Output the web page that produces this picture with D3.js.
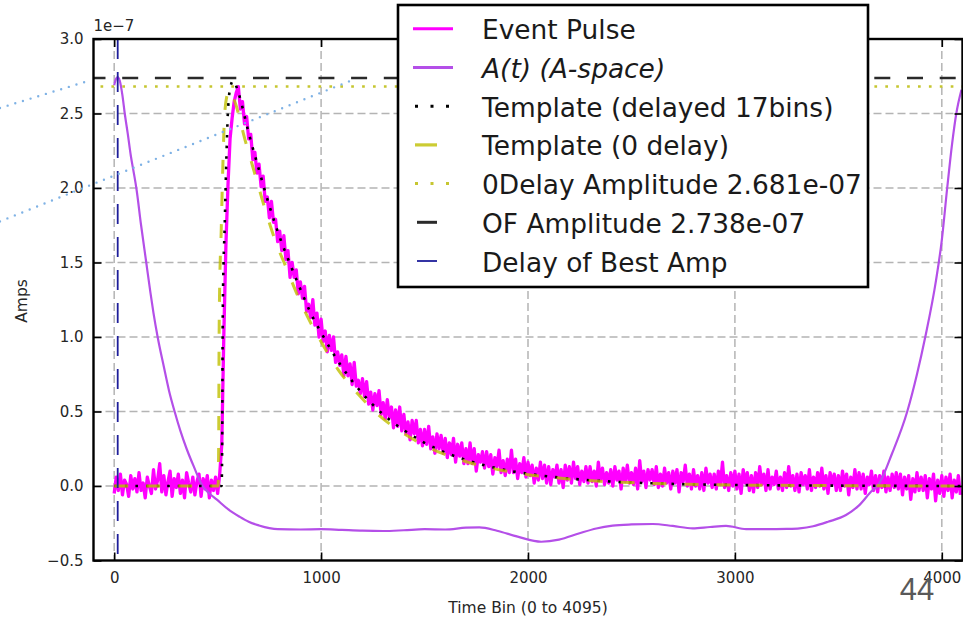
<!DOCTYPE html>
<html><head><meta charset="utf-8">
<script src="https://cdn.jsdelivr.net/npm/d3@7/dist/d3.min.js"></script>
<style>body{margin:0;background:#fff;} svg{display:block;}</style>
</head><body>
<svg id="chart" width="963" height="618"></svg>
<script>
// ---------------- DATA (amplitudes in units of 1e-7 A) ----------------
const pulseStep = 10; // bins between Event Pulse samples
const pulseValues = [
 -0.05,0.06,-0.03,0.08,-0.06,0.04,0.01,-0.07,0.07,-0.02,
 0.05,-0.04,0.09,-0.03,0.02,-0.08,0.06,0.00,-0.05,0.11,
 -0.02,0.04,0.15,-0.04,0.07,-0.06,0.03,0.10,-0.07,0.05,
 -0.01,0.08,-0.05,0.04,-0.08,0.09,0.02,-0.04,0.06,-0.06,
 0.03,0.08,-0.07,0.05,-0.02,0.07,-0.08,0.04,-0.03,0.06,
 -0.05,0.08,
 0.28,1.02,1.62,2.02,2.33,2.47,2.58,2.64,
 2.68,2.53,2.58,2.43,2.48,2.33,2.36,2.19,2.24,2.10,
 2.16,2.01,2.08,1.91,1.94,1.80,1.91,1.77,1.79,1.64,
 1.71,1.58,1.68,1.52,1.58,1.40,1.50,1.40,1.45,1.29,
 1.37,1.26,1.34,1.17,1.22,1.13,1.25,1.08,1.16,1.00,
 1.12,0.97,1.04,0.90,1.01,0.91,1.00,0.83,0.90,0.81,
 0.88,0.74,0.87,0.74,0.82,0.68,0.83,0.67,0.71,0.62,
 0.72,0.60,0.70,0.55,0.63,0.51,0.62,0.54,0.64,0.48,
 0.56,0.45,0.58,0.46,0.53,0.39,0.51,0.40,0.53,0.37,
 0.48,0.35,0.43,0.31,0.44,0.35,0.44,0.29,0.38,0.27,
 0.38,0.28,0.40,0.25,0.33,0.22,0.35,0.25,0.34,0.22,
 0.32,0.19,0.29,0.21,0.32,0.16,0.28,0.20,0.29,0.15,
 0.25,0.15,0.29,0.15,0.25,0.10,0.21,0.16,0.23,0.12,
 0.23,0.13,0.21,0.08,0.19,0.13,0.24,0.09,0.17,0.07,
 0.18,0.09,0.24,0.09,0.18,0.05,0.15,0.09,0.19,0.06,
 0.16,0.07,0.14,0.02,0.12,0.04,0.16,0.05,0.14,0.02,
 0.13,0.01,0.11,0.06,0.14,0.02,0.11,-0.01,0.14,0.04,
 0.13,0.02,0.16,0.05,0.13,0.01,0.10,0.03,0.13,0.02,
 0.13,0.03,0.10,0.00,0.16,0.04,0.12,0.01,0.09,0.02,
 0.11,0.00,0.13,0.04,0.10,-0.02,0.12,0.03,0.14,0.02,
 0.09,0.01,0.12,-0.02,0.17,0.03,0.10,-0.01,0.11,0.04,
 0.11,0.01,0.13,-0.01,0.08,0.00,0.12,0.02,0.09,-0.02,
 0.10,0.02,0.11,-0.04,0.09,0.03,0.14,0.00,0.08,-0.02,
 0.11,0.00,0.07,-0.02,0.09,-0.03,0.12,0.02,0.08,-0.01,
 0.08,-0.02,0.10,0.01,0.16,-0.01,0.07,-0.03,0.09,0.00,
 0.10,-0.02,0.08,-0.05,0.11,0.02,0.09,-0.03,0.07,-0.04,
 0.09,-0.01,0.13,0.01,0.08,-0.03,0.11,-0.02,0.06,0.01,
 0.10,-0.02,0.06,-0.03,0.09,-0.01,0.13,0.00,0.07,-0.03,
 0.08,-0.04,0.09,0.01,0.07,-0.02,0.11,-0.03,0.06,-0.01,
 0.09,0.00,0.12,-0.02,0.07,-0.05,0.09,0.01,0.08,-0.03,
 0.07,-0.03,0.10,0.00,0.08,-0.06,0.06,-0.01,0.11,-0.02,
 0.09,-0.02,0.08,-0.05,0.06,0.01,0.10,-0.03,0.07,-0.04,
 0.07,-0.01,0.10,-0.04,0.06,-0.03,0.08,-0.01,0.09,-0.02,
 0.08,-0.06,0.06,-0.02,0.07,-0.09,0.05,-0.04,0.09,-0.03,
 0.06,-0.03,0.07,-0.08,0.05,-0.02,0.08,-0.10,0.04,-0.05,
 0.07,-0.07,0.06,-0.03,0.08,-0.08,0.04,-0.04,0.07,-0.06
];

const aBins = [0,8,17,27,40,51,65,80,95,107,130,155,175,190,210,240,265,292,320,350,385,427,460,495,550,606,650,700,750,790,900,1000,1100,1200,1300,1400,1500,1600,1700,1765,1850,1950,2064,2150,2249,2330,2409,2500,2603,2700,2796,2880,2957,3054,3150,3250,3313,3378,3450,3537,3600,3666,3689,3760,3833,3880,3920,3972,4000,4026,4050,4070,4095];
const aValues = [2.69,2.73,2.745,2.72,2.62,2.50,2.37,2.22,2.10,2.00,1.75,1.50,1.30,1.16,1.00,0.80,0.64,0.50,0.37,0.25,0.13,0.00,-0.05,-0.09,-0.155,-0.206,-0.24,-0.265,-0.283,-0.29,-0.292,-0.29,-0.295,-0.30,-0.302,-0.297,-0.29,-0.292,-0.28,-0.278,-0.30,-0.34,-0.374,-0.36,-0.317,-0.285,-0.266,-0.258,-0.255,-0.268,-0.284,-0.275,-0.268,-0.289,-0.29,-0.288,-0.284,-0.27,-0.24,-0.195,-0.13,-0.027,0.0,0.22,0.50,0.75,1.00,1.38,1.65,2.00,2.30,2.50,2.66];

const tplDelayedBins = [0,519,522,524,526,534,542,550,562,575,600,650,700,750,800,850,900,950,1000,1100,1200,1300,1400,1500,1600,1700,1800,1900,2000,2200,2400,2600,2800,3000,3400,4095];
const tplDelayedValues = [0,0,0.3,1.0,1.3,1.74,2.19,2.52,2.68,2.72,2.64,2.37,2.12,1.88,1.67,1.49,1.32,1.16,1.03,0.80,0.62,0.48,0.375,0.29,0.225,0.175,0.135,0.105,0.082,0.05,0.03,0.018,0.011,0.007,0.003,0];

const tplZeroBins = [0,502,505,507,509,517,525,533,545,558,583,633,683,733,783,833,883,933,983,1083,1183,1283,1383,1483,1583,1683,1783,1883,1983,2183,2383,2583,2783,2983,3383,4095];
const tplZeroValues = [0,0,0.29,0.98,1.27,1.70,2.14,2.47,2.62,2.66,2.58,2.32,2.08,1.84,1.63,1.46,1.29,1.14,1.01,0.78,0.61,0.47,0.367,0.284,0.22,0.171,0.132,0.103,0.080,0.049,0.029,0.018,0.011,0.007,0.003,0];

const ampZeroDelay = 2.681;
const ampOF = 2.738;
const bestDelayBin = 17;

const xTicks = [0,1000,2000,3000,4000];
const yTicks = [-0.5,0.0,0.5,1.0,1.5,2.0,2.5,3.0];
const xDomain = [-100,4100];
const yDomain = [-0.5,3.0];
const legendLabels = ["Event Pulse","A(t) (A-space)","Template (delayed 17bins)","Template (0 delay)","0Delay Amplitude 2.681e-07","OF Amplitude 2.738e-07","Delay of Best Amp"];
const xLabel = "Time Bin (0 to 4095)";
const yLabel = "Amps";
const offsetLabel = "1e\u22127";
const slideNumber = "44";
// slide annotation (light blue dotted) lines, in data coordinates
const annotationLines = [
  [[-552,2.537],[-127,2.718]],
  [[-552,1.776],[1170,2.735]]
];

// ---------------- DRAWING ----------------
const svg = d3.select("#chart");
const FONT = "DejaVu Sans, sans-serif";
const P = {left:93.5, right:962.5, top:39, bottom:560.5};
const x = d3.scaleLinear().domain(xDomain).range([P.left,P.right]);
const y = d3.scaleLinear().domain(yDomain).range([P.bottom,P.top]);

svg.append("defs").append("clipPath").attr("id","plotclip")
  .append("rect").attr("x",P.left).attr("y",P.top)
  .attr("width",P.right-P.left).attr("height",P.bottom-P.top);

// grid
const grid = svg.append("g").attr("stroke","#b4b4b4").attr("stroke-width",1.5).attr("stroke-dasharray","8,4");
grid.selectAll("line.v").data(xTicks).join("line").attr("class","v")
  .attr("x1",d=>x(d)).attr("x2",d=>x(d)).attr("y1",P.top).attr("y2",P.bottom);
grid.selectAll("line.h").data(yTicks.slice(1,-1)).join("line").attr("class","h")
  .attr("y1",d=>y(d)).attr("y2",d=>y(d)).attr("x1",P.left).attr("x2",P.right);

const plot = svg.append("g").attr("clip-path","url(#plotclip)");

// Event pulse
const pulsePts = pulseValues.map((v,i)=>[i*pulseStep, v]);
const line = d3.line().x(d=>x(d[0])).y(d=>y(d[1]));
const smooth = d3.line().x(d=>x(d[0])).y(d=>y(d[1])).curve(d3.curveMonotoneX);
plot.append("path").datum(pulsePts).attr("d",line)
  .attr("fill","none").attr("stroke","#ff00ff").attr("stroke-width",3.3).attr("stroke-linejoin","round");

// A(t)
plot.append("path").datum(aBins.map((b,i)=>[b,aValues[i]])).attr("d",smooth)
  .attr("fill","none").attr("stroke","#b44fe8").attr("stroke-width",2.2);

// Template delayed (black dotted)
plot.append("path").datum(tplDelayedBins.map((b,i)=>[b,tplDelayedValues[i]])).attr("d",smooth)
  .attr("fill","none").attr("stroke","#000").attr("stroke-width",2.6).attr("stroke-dasharray","2.6,8");

// Template 0 delay (olive dashed)
plot.append("path").datum(tplZeroBins.map((b,i)=>[b,tplZeroValues[i]])).attr("d",smooth)
  .attr("fill","none").attr("stroke","#bfbf00").attr("stroke-opacity",0.8).attr("stroke-width",3).attr("stroke-dasharray","14,18");

// 0 delay amplitude (yellow dotted)
plot.append("line").attr("x1",P.left).attr("x2",P.right).attr("y1",y(ampZeroDelay)).attr("y2",y(ampZeroDelay))
  .attr("stroke","#c6c630").attr("stroke-width",2.6).attr("stroke-dasharray","2.7,8.2").attr("stroke-dashoffset",-7);

// OF amplitude (black dashed)
plot.append("line").attr("x1",P.left).attr("x2",P.right).attr("y1",y(ampOF)).attr("y2",y(ampOF))
  .attr("stroke","#2a2a2a").attr("stroke-width",2.6).attr("stroke-dasharray","16,16.7").attr("stroke-dashoffset",4);

// Delay of best amp (navy dashed vertical)
plot.append("line").attr("x1",x(bestDelayBin)).attr("x2",x(bestDelayBin)).attr("y1",P.top).attr("y2",P.bottom)
  .attr("stroke","#1e1e9a").attr("stroke-width",1.8).attr("stroke-dasharray","20,13");

// frame
svg.append("rect").attr("x",P.left).attr("y",P.top).attr("width",P.right-P.left).attr("height",P.bottom-P.top)
  .attr("fill","none").attr("stroke","#000").attr("stroke-width",2.4);

// axes (ticks inward)
const styleAxis = g => {
  g.select(".domain").remove();
  g.selectAll(".tick line").attr("stroke","#000").attr("stroke-width",1.6);
  g.selectAll("text").attr("font-family",FONT).attr("font-size",15).attr("fill","#262626");
};
svg.append("g").attr("transform",`translate(0,${P.bottom})`)
  .call(d3.axisBottom(x).tickValues(xTicks).tickSize(-8).tickSizeOuter(0).tickPadding(12).tickFormat(d3.format("d")))
  .call(styleAxis);
svg.append("g").attr("transform",`translate(0,${P.top})`)
  .call(d3.axisTop(x).tickValues(xTicks).tickSize(-8).tickSizeOuter(0).tickFormat(""))
  .call(styleAxis);
svg.append("g").attr("transform",`translate(${P.left},0)`)
  .call(d3.axisLeft(y).tickValues(yTicks).tickSize(-8).tickSizeOuter(0).tickPadding(10).tickFormat(d3.format(".1f")))
  .call(styleAxis);
svg.append("g").attr("transform",`translate(${P.right},0)`)
  .call(d3.axisRight(y).tickValues(yTicks).tickSize(-8).tickSizeOuter(0).tickFormat(""))
  .call(styleAxis);

// labels
svg.append("text").attr("x",(P.left+P.right)/2).attr("y",613).attr("text-anchor","middle")
  .attr("font-family",FONT).attr("font-size",15.5).attr("fill","#262626").text(xLabel);
svg.append("text").attr("transform","translate(27,301) rotate(-90)").attr("text-anchor","middle")
  .attr("font-family",FONT).attr("font-size",15.5).attr("fill","#262626").text(yLabel);
svg.append("text").attr("x",P.left).attr("y",31).attr("font-family",FONT).attr("font-size",15)
  .attr("fill","#262626").text(offsetLabel);

// slide annotation lines
svg.append("g").selectAll("line").data(annotationLines).join("line")
  .attr("x1",d=>x(d[0][0])).attr("y1",d=>y(d[0][1])).attr("x2",d=>x(d[1][0])).attr("y2",d=>y(d[1][1]))
  .attr("stroke","#7fb2e5").attr("stroke-width",2.4).attr("stroke-linecap","round").attr("stroke-dasharray","0,8");

// legend
const L = {x:398, y:5, w:470, h:282};
const leg = svg.append("g");
leg.append("rect").attr("x",L.x).attr("y",L.y).attr("width",L.w).attr("height",L.h)
  .attr("fill","#fff").attr("stroke","#000").attr("stroke-width",2.6);
const legStyles = [
  {stroke:"#ff00ff", w:3, dash:null, x1:413, x2:453, op:1},
  {stroke:"#b44fe8", w:3, dash:null, x1:413, x2:453, op:1},
  {stroke:"#000", w:3, dash:"3,12.5", x1:415, x2:453, op:1},
  {stroke:"#bfbf00", w:3.2, dash:null, x1:415, x2:437, op:0.8},
  {stroke:"#c6c630", w:3, dash:"3,12.5", x1:415, x2:453, op:1},
  {stroke:"#2a2a2a", w:3, dash:null, x1:417, x2:437, op:1},
  {stroke:"#1e1e9a", w:1.8, dash:null, x1:417, x2:437, op:1}
];
const rowY = i => 39.3 + 38.7*i;
legendLabels.forEach((lab,i)=>{
  const s = legStyles[i];
  const ly = rowY(i) - 10.5;
  const ln = leg.append("line").attr("x1",s.x1).attr("x2",s.x2).attr("y1",ly).attr("y2",ly)
    .attr("stroke",s.stroke).attr("stroke-width",s.w).attr("stroke-opacity",s.op);
  if (s.dash) ln.attr("stroke-dasharray",s.dash);
  leg.append("text").attr("class","lt").attr("x",482).attr("y",rowY(i))
    .attr("font-family",FONT).attr("font-size",25).attr("fill","#1a1a1a")
    .attr("font-style", i===1 ? "italic" : "normal").text(lab);
});
// fit legend font so the longest entry spans the width seen in the reference
const longest = leg.selectAll("text.lt").filter((d,i)=>i===4).node();
const len = longest.getComputedTextLength();
if (len > 0) leg.selectAll("text.lt").attr("font-size", 25*380/len);

// slide number
svg.append("text").attr("x",917).attr("y",600).attr("text-anchor","middle")
  .attr("font-family","Liberation Sans, Arial, sans-serif").attr("font-size",31)
  .attr("fill","#595959").text(slideNumber);
</script>
</body></html>
